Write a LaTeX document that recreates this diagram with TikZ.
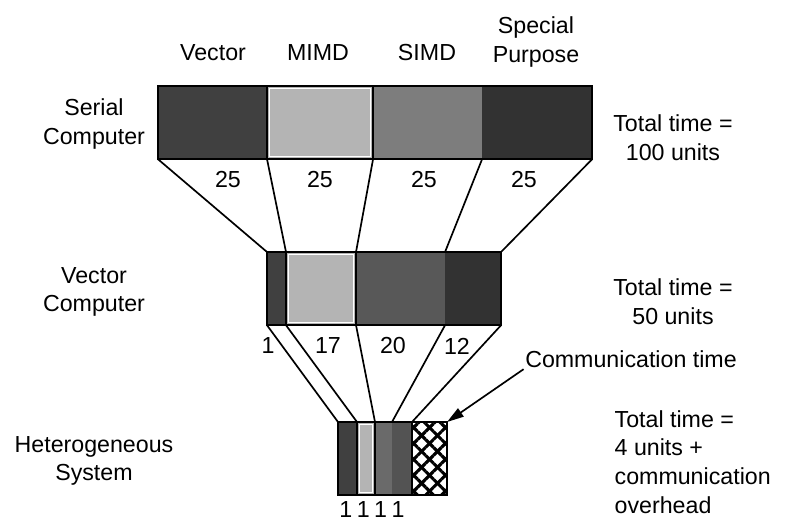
\documentclass[tikz,border=0pt]{standalone}
\usepackage{fontspec}
\setmainfont{Liberation Sans}
\usepackage{tikz}
\usetikzlibrary{positioning, arrows.meta, patterns.meta}
\usepackage{xcolor}
\definecolor{segDark}{RGB}{64, 64, 64}
\definecolor{segLight}{RGB}{180, 180, 180}
\definecolor{segMid}{RGB}{125, 125, 125}
\definecolor{segDeep}{RGB}{50, 50, 50}
\definecolor{segMidDark}{RGB}{88, 88, 88}

\begin{document}
\begin{tikzpicture}[
  x=0.025cm, y=-0.025cm,
  seg/.style={rectangle, inner sep=0pt, outer sep=0pt, minimum height=1.83cm},
  hatch/.style={pattern={Lines[angle=45, distance=8pt, line width=2.2pt]},
                postaction={pattern={Lines[angle=-45, distance=8pt, line width=2.2pt]}}},
  barline/.style={line width=1.6pt},
  inset/.style={white, line width=0.8pt},
  conn/.style={line width=1.2pt},
  lbl/.style={font=\fontsize{16.5}{20.5}\selectfont, align=center, inner sep=1pt}
]
  \useasboundingbox (0,0) rectangle (798,523);

  % serial computer
  \node[seg, fill=segDark, minimum width=2.725cm, anchor=north west] (s1) at (158,86) {};
  \node[seg, fill=segLight, minimum width=2.65cm, right=0pt of s1] (s2) {};
  \node[seg, fill=segMid, minimum width=2.725cm, right=0pt of s2] (s3) {};
  \node[seg, fill=segDeep, minimum width=2.75cm, right=0pt of s3] (s4) {};

  % vector computer
  \node[seg, fill=segDark, minimum width=0.475cm, anchor=north west] (v1) at (267,252) {};
  \node[seg, fill=segLight, minimum width=1.75cm, right=0pt of v1] (v2) {};
  \node[seg, fill=segMidDark, minimum width=2.225cm, right=0pt of v2] (v3) {};
  \node[seg, fill=segDeep, minimum width=1.4cm, right=0pt of v3] (v4) {};

  % heterogeneous system
  \node[seg, fill=segDark, minimum width=0.475cm, anchor=north west] (h1) at (338,422) {};
  \node[seg, fill=segLight, minimum width=0.45cm, right=0pt of h1] (h2) {};
  \node[seg, fill=segMid!85!black, minimum width=0.425cm, right=0pt of h2] (h3) {};
  \node[seg, fill=segDark!90!white, minimum width=0.5cm, right=0pt of h3] (h4) {};
  \node[seg, hatch, minimum width=0.875cm, right=0pt of h4] (h5) {};

  % white inner edge of the MIMD blocks
  \foreach \b in {s2, v2, h2}
    \draw[inset] ([xshift=1.8pt, yshift=-1.8pt]\b.north west)
      rectangle ([xshift=-1.8pt, yshift=1.8pt]\b.south east);

  % outlines
  \draw[barline] (s1.north west) rectangle (s4.south east);
  \draw[barline] (v1.north west) rectangle (v4.south east);
  \draw[barline] (h1.north west) rectangle (h5.south east);
  \foreach \b in {s2, v2, h2, h5}
    \draw[barline] (\b.north west) rectangle (\b.south east);

  % connectors
  \foreach \i in {1,...,4} {
    \draw[conn] (s\i.south west) -- (v\i.north west);
    \draw[conn] (v\i.south west) -- (h\i.north west);
  }
  \draw[conn] (s4.south east) -- (v4.north east);
  \draw[conn] (v4.south east) -- (h4.north east);

  % column heads
  \node[lbl] (cVec) at (213,53) {Vector};
  \node[lbl] (cMimd) at (318,53) {MIMD};
  \node[lbl] (cSimd) at (427,53) {SIMD};
  \node[lbl] (cSpec) at (536,42) {Special\\Purpose};

  % row labels
  \node[lbl] (rSer) at (94,124) {Serial\\Computer};
  \node[lbl] (rVec) at (94,292) {Vector\\Computer};
  \node[lbl] (rHet) at (94,461) {Heterogeneous\\System};

  % times
  \node[lbl] (tSer) at (673,138) {Total time =\\100 units};
  \node[lbl] (tVec) at (673,302) {Total time =\\50 units};
  \node[lbl, align=left, anchor=west] (tHet) at (613,462)
    {Total time =\\4 units +\\communication\\overhead};

  % units per part
  \foreach \x [count=\i] in {228,320,424,524}
    \node[lbl] (nSer\i) at (\x,180) {25};
  \node[lbl] (nVec1) at (268,346) {1};
  \node[lbl] (nVec2) at (328,346) {17};
  \node[lbl] (nVec3) at (393,346) {20};
  \node[lbl] (nVec4) at (457,346) {12};
  \node[lbl] (nHet) at (372,510) {1\hspace{3.2pt}1\hspace{3.2pt}1\hspace{3.2pt}1};

  \node[lbl] (comm) at (631,359) {Communication time};
  \draw[conn, -{Triangle[length=12pt, width=7pt]}] (comm.south west) -- (h5.north east);
\end{tikzpicture}
\end{document}
